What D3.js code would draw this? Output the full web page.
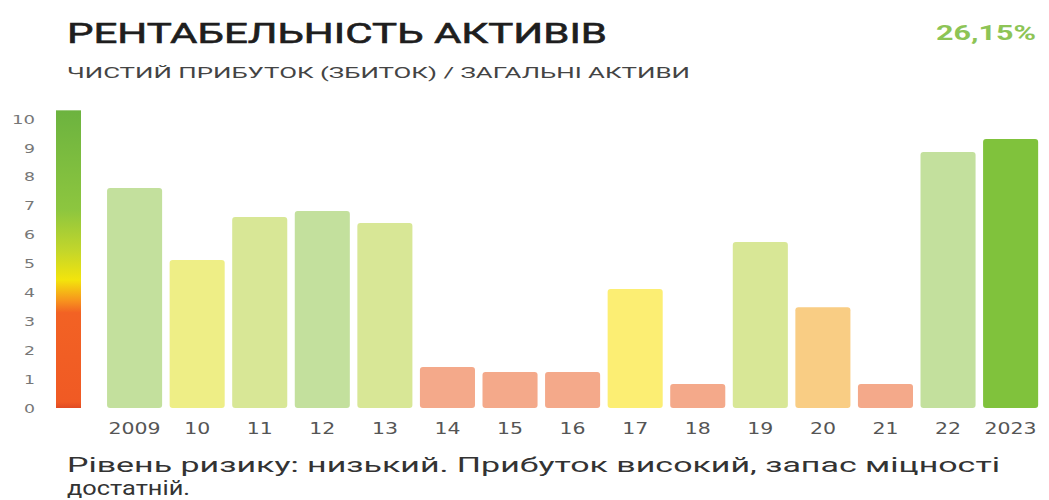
<!DOCTYPE html>
<html>
<head>
<meta charset="utf-8">
<script src="https://cdn.jsdelivr.net/npm/d3@7"></script>
<style>
  body { margin: 0; background: #fff; }
  svg { display: block; }
</style>
</head>
<body>
<div id="chart"></div>
<script>
let w = 1049;
let h = 500;

// data
let years = ["2009", "10", "11", "12", "13", "14", "15", "16", "17", "18", "19", "20", "21", "22", "2023"];
let values = [7.61, 5.12, 6.61, 6.82, 6.40, 1.42, 1.25, 1.25, 4.12, 0.83, 5.74, 3.49, 0.83, 8.86, 9.31];
let yTicks = [0, 1, 2, 3, 4, 5, 6, 7, 8, 9, 10];
let title = "РЕНТАБЕЛЬНІСТЬ АКТИВІВ";
let subtitle = "ЧИСТИЙ ПРИБУТОК (ЗБИТОК) / ЗАГАЛЬНІ АКТИВИ";
let headline = "26,15%";
let note1 = "Рівень ризику: низький. Прибуток високий, запас міцності";
let note2 = "достатній.";

let svg = d3.select("#chart")
  .append("svg")
  .attr("width", w)
  .attr("height", h);

// scales
let yScale = d3.scaleLinear().domain([0, 10]).range([408, 119]);
let xScale = d3.scaleBand()
  .domain(years)
  .range([103.3, 1041.9])
  .paddingInner(0.12)
  .paddingOuter(0.06);

// colour by level
let colorScale = d3.scaleThreshold()
  .domain([2, 4, 5, 5.5, 6.7])
  .range(["#f4a98a", "#f9cd84", "#fcee73", "#eeee86", "#d8e796", "#c3e09d"]);

// vertical gradient legend bar
let defs = svg.append("defs");
let grad = defs.append("linearGradient")
  .attr("id", "riskGrad")
  .attr("x1", 0).attr("y1", 1).attr("x2", 0).attr("y2", 0);
let stops = [
  [0, "#e14a22"], [0.02, "#f05a24"], [0.32, "#f26224"], [0.36, "#f7931e"],
  [0.43, "#f3e40c"], [0.53, "#c2d62b"], [0.665, "#8dc63f"], [1, "#6cb33f"]
];
stops.forEach(s => {
  grad.append("stop").attr("offset", s[0]).attr("stop-color", s[1]);
});
svg.append("rect")
  .attr("x", 56)
  .attr("y", yScale(10.3))
  .attr("width", 25)
  .attr("height", yScale(0) - yScale(10.3))
  .attr("fill", "url(#riskGrad)");

// y axis (labels only)
let yAxis = d3.axisLeft(yScale).tickValues(yTicks).tickSize(0).tickPadding(0);
let yAxisGroup = svg.append("g")
  .attr("transform", "translate(35,0)")
  .call(yAxis);
yAxisGroup.select(".domain").remove();
yAxisGroup.selectAll("text")
  .attr("font-family", "DejaVu Sans, sans-serif")
  .attr("font-size", 13)
  .attr("textLength", d => String(d).length * 12 - 1)
  .attr("lengthAdjust", "spacingAndGlyphs")
  .attr("fill", "#777");

// bars
svg.selectAll(".bar").data(values).enter()
  .append("rect")
  .attr("class", "bar")
  .attr("x", (d, i) => xScale(years[i]))
  .attr("y", d => yScale(d))
  .attr("width", xScale.bandwidth())
  .attr("height", d => yScale(0) - yScale(d))
  .attr("rx", 3)
  .attr("fill", (d, i) => i == values.length - 1 ? "#80c23c" : colorScale(d));

// x axis
let xAxis = d3.axisBottom(xScale).tickSize(0).tickPadding(0);
let xAxisGroup = svg.append("g")
  .attr("transform", "translate(0,423)")
  .call(xAxis);
xAxisGroup.select(".domain").remove();
xAxisGroup.selectAll("text")
  .attr("font-family", "DejaVu Sans, sans-serif")
  .attr("font-size", 16)
  .attr("textLength", d => d.length * 13)
  .attr("lengthAdjust", "spacingAndGlyphs")
  .attr("fill", "#555");

// texts
svg.append("text")
  .text(title)
  .attr("x", 67).attr("y", 43)
  .attr("textLength", 540)
  .attr("lengthAdjust", "spacingAndGlyphs")
  .attr("font-family", "Roboto, sans-serif")
  .attr("font-size", 28)
  .attr("fill", "#1e1e1e")
  .attr("stroke", "#1e1e1e")
  .attr("stroke-width", 0.6);

svg.append("text")
  .text(headline)
  .attr("x", 1036).attr("y", 40)
  .attr("text-anchor", "end")
  .attr("textLength", 100)
  .attr("lengthAdjust", "spacingAndGlyphs")
  .attr("font-family", "Roboto, sans-serif")
  .attr("font-weight", 700)
  .attr("font-size", 21)
  .attr("fill", "#8dc456");

svg.append("text")
  .text(subtitle)
  .attr("x", 67).attr("y", 78)
  .attr("textLength", 623)
  .attr("lengthAdjust", "spacingAndGlyphs")
  .attr("font-family", "Roboto, sans-serif")
  .attr("font-size", 15)
  .attr("fill", "#444");

svg.append("text")
  .text(note1)
  .attr("x", 67).attr("y", 472)
  .attr("textLength", 933)
  .attr("lengthAdjust", "spacingAndGlyphs")
  .attr("font-family", "Roboto, sans-serif")
  .attr("font-size", 20)
  .attr("fill", "#333");

svg.append("text")
  .text(note2)
  .attr("x", 67).attr("y", 495)
  .attr("textLength", 123)
  .attr("lengthAdjust", "spacingAndGlyphs")
  .attr("font-family", "Roboto, sans-serif")
  .attr("font-size", 20)
  .attr("fill", "#333");
</script>
</body>
</html>
